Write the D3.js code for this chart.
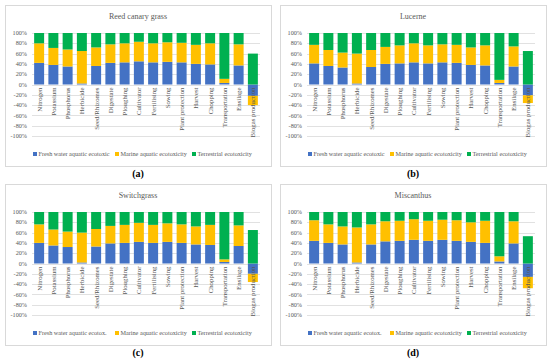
<!DOCTYPE html>
<html>
<head>
<meta charset="utf-8">
<script src="https://cdn.jsdelivr.net/npm/d3@7"></script>
<style>
	body { margin: 0; background: #fff; }
	svg text { font-family: "Liberation Serif", "DejaVu Serif", serif; }
</style>
</head>
<body>
<div id="chart"></div>
<script>
var categories = ["Nitrogen", "Potassium", "Phosphorus", "Herbicide", "Seed/Rhizomes", "Digestate",
	"Ploughing", "Cultivator", "Fertilising", "Sowing", "Plant protection", "Harvest",
	"Chopping", "Transportation", "Ensilage", "Biogas production"];

var titles = ["Reed canary grass", "Lucerne", "Switchgrass", "Miscanthus"];
var panelLetters = ["(a)", "(b)", "(c)", "(d)"];
var legendNamesLong = ["Fresh water aquatic ecotoxic", "Marine aquatic ecotoxicity", "Terrestrial ecotoxicity"];
var legendNamesShort = ["Fresh water aquatic ecotox.", "Marine aquatic ecotoxicity", "Terrestrial ecotoxicity"];
var yTicks = [-1, -0.8, -0.6, -0.4, -0.2, 0, 0.2, 0.4, 0.6, 0.8, 1];

// percent shares, one array per series and crop
var reedFresh   = [42, 38, 35, 2, 36, 42, 43, 45, 43, 44, 43, 40, 39, 3, 37, -22];
var reedMarine  = [38, 33, 33, 63, 36, 36, 37, 38, 37, 38, 38, 37, 41, 8, 41, -18];
var reedTerr    = [20, 29, 32, 35, 28, 22, 20, 17, 20, 18, 19, 23, 20, 89, 22, 60];

var lucFresh    = [41, 36, 33, 2, 34, 40, 41, 43, 41, 43, 42, 38, 37, 3, 35, -21];
var lucMarine   = [36, 31, 29, 58, 33, 33, 35, 37, 35, 35, 35, 34, 39, 6, 39, -15];
var lucTerr     = [23, 33, 38, 40, 33, 27, 24, 20, 24, 22, 23, 28, 24, 91, 26, 65];

var switchFresh = [40, 35, 32, 2, 33, 39, 40, 42, 40, 42, 40, 37, 36, 3, 34, -20];
var switchMarine= [36, 31, 30, 58, 34, 34, 35, 37, 35, 36, 36, 35, 39, 5, 40, -16];
var switchTerr  = [24, 34, 38, 40, 33, 27, 25, 21, 25, 22, 24, 28, 25, 92, 26, 65];

var miscFresh   = [44, 40, 37, 2, 37, 43, 44, 46, 44, 46, 44, 42, 40, 4, 39, -26];
var miscMarine  = [40, 36, 35, 68, 39, 39, 39, 40, 39, 39, 40, 38, 43, 10, 43, -22];
var miscTerr    = [16, 24, 28, 30, 24, 18, 17, 14, 17, 15, 16, 20, 17, 86, 18, 53];

var colors = ["#4472C4", "#FFC000", "#00B050"];

var crops = [
	{fresh: reedFresh, marine: reedMarine, terr: reedTerr, legend: legendNamesLong},
	{fresh: lucFresh, marine: lucMarine, terr: lucTerr, legend: legendNamesLong},
	{fresh: switchFresh, marine: switchMarine, terr: switchTerr, legend: legendNamesShort},
	{fresh: miscFresh, marine: miscMarine, terr: miscTerr, legend: legendNamesShort}
];

var width = 550,
	height = 363;

var svg = d3.select("#chart")
	.append("svg")
	.attr("width", width)
	.attr("height", height);

var boxW = 266,
	boxH = 161;

var origins = [[5, 5], [280, 5], [5, 184], [280, 184]];

function panel(i) {
	var x0 = origins[i][0],
		y0 = origins[i][1],
		crop = crops[i];

	var g = svg.append("g")
		.attr("transform", "translate(" + x0 + "," + y0 + ")");

	g.append("rect")
		.attr("x", 0.5)
		.attr("y", 0.5)
		.attr("width", boxW)
		.attr("height", boxH)
		.attr("fill", "#fff")
		.attr("stroke", "#d9d9d9")
		.attr("stroke-width", 1);

	g.append("text")
		.attr("x", boxW / 2)
		.attr("y", 14)
		.attr("text-anchor", "middle")
		.attr("font-size", 8)
		.attr("fill", "#595959")
		.text(titles[i]);

	var x = d3.scaleBand()
		.domain(categories)
		.range([27, 255])
		.paddingInner(0.3)
		.paddingOuter(0.15);

	var y = d3.scaleLinear()
		.domain([-1, 1])
		.range([131, 28]);

	// grid
	g.selectAll("line.grid")
		.data(yTicks)
		.enter()
		.append("line")
		.attr("class", "grid")
		.attr("x1", 27)
		.attr("x2", 255)
		.attr("y1", function(d) { return Math.round(y(d)) + 0.5; })
		.attr("y2", function(d) { return Math.round(y(d)) + 0.5; })
		.attr("stroke", "#d9d9d9")
		.attr("stroke-width", 0.8);

	g.selectAll("text.ytick")
		.data(yTicks)
		.enter()
		.append("text")
		.attr("class", "ytick")
		.attr("x", 22)
		.attr("y", function(d) { return y(d); })
		.attr("dy", "0.35em")
		.attr("text-anchor", "end")
		.attr("font-size", 6.2)
		.attr("fill", "#595959")
		.text(function(d) { return Math.round(d * 100) + "%"; });

	var rows = categories.map(function(c, k) {
		return {cat: c, fresh: crop.fresh[k] / 100, marine: crop.marine[k] / 100, terr: crop.terr[k] / 100};
	});

	var stack = d3.stack()
		.keys(["fresh", "marine", "terr"])
		.offset(d3.stackOffsetDiverging);

	var layers = stack(rows);

	var layer = g.selectAll("g.layer")
		.data(layers)
		.enter()
		.append("g")
		.attr("fill", function(d, k) { return colors[k]; });

	layer.selectAll("rect")
		.data(function(d) { return d; })
		.enter()
		.append("rect")
		.attr("x", function(d) { return x(d.data.cat); })
		.attr("width", x.bandwidth())
		.attr("y", function(d) { return y(Math.max(d[0], d[1])); })
		.attr("height", function(d) { return Math.abs(y(d[0]) - y(d[1])); });

	// category labels, rotated
	g.selectAll("text.cat")
		.data(categories)
		.enter()
		.append("text")
		.attr("class", "cat")
		.attr("transform", function(d) {
			return "translate(" + (x(d) + x.bandwidth() / 2) + "," + (y(0) + 3) + ") rotate(-90)";
		})
		.attr("dy", "0.35em")
		.attr("text-anchor", "end")
		.attr("font-size", 6.8)
		.attr("fill", "#595959")
		.text(function(d) { return d; });

	// legend
	var legendX = [28, 110, 187];
	var leg = g.selectAll("g.leg")
		.data(crop.legend)
		.enter()
		.append("g")
		.attr("transform", function(d, k) { return "translate(" + legendX[k] + ",149)"; });

	leg.append("rect")
		.attr("x", 0)
		.attr("y", -2)
		.attr("width", 4)
		.attr("height", 4)
		.attr("fill", function(d, k) { return colors[k]; });

	leg.append("text")
		.attr("x", 5.5)
		.attr("y", 0)
		.attr("dy", "0.35em")
		.attr("font-size", 6.2)
		.attr("fill", "#595959")
		.text(function(d) { return d; });

	svg.append("text")
		.attr("x", x0 + boxW / 2)
		.attr("y", y0 + boxH + 11)
		.attr("text-anchor", "middle")
		.attr("font-size", 10)
		.attr("font-weight", "bold")
		.attr("fill", "#000")
		.text(panelLetters[i]);
}

for (var i = 0; i < 4; i++) panel(i);
</script>
</body>
</html>
